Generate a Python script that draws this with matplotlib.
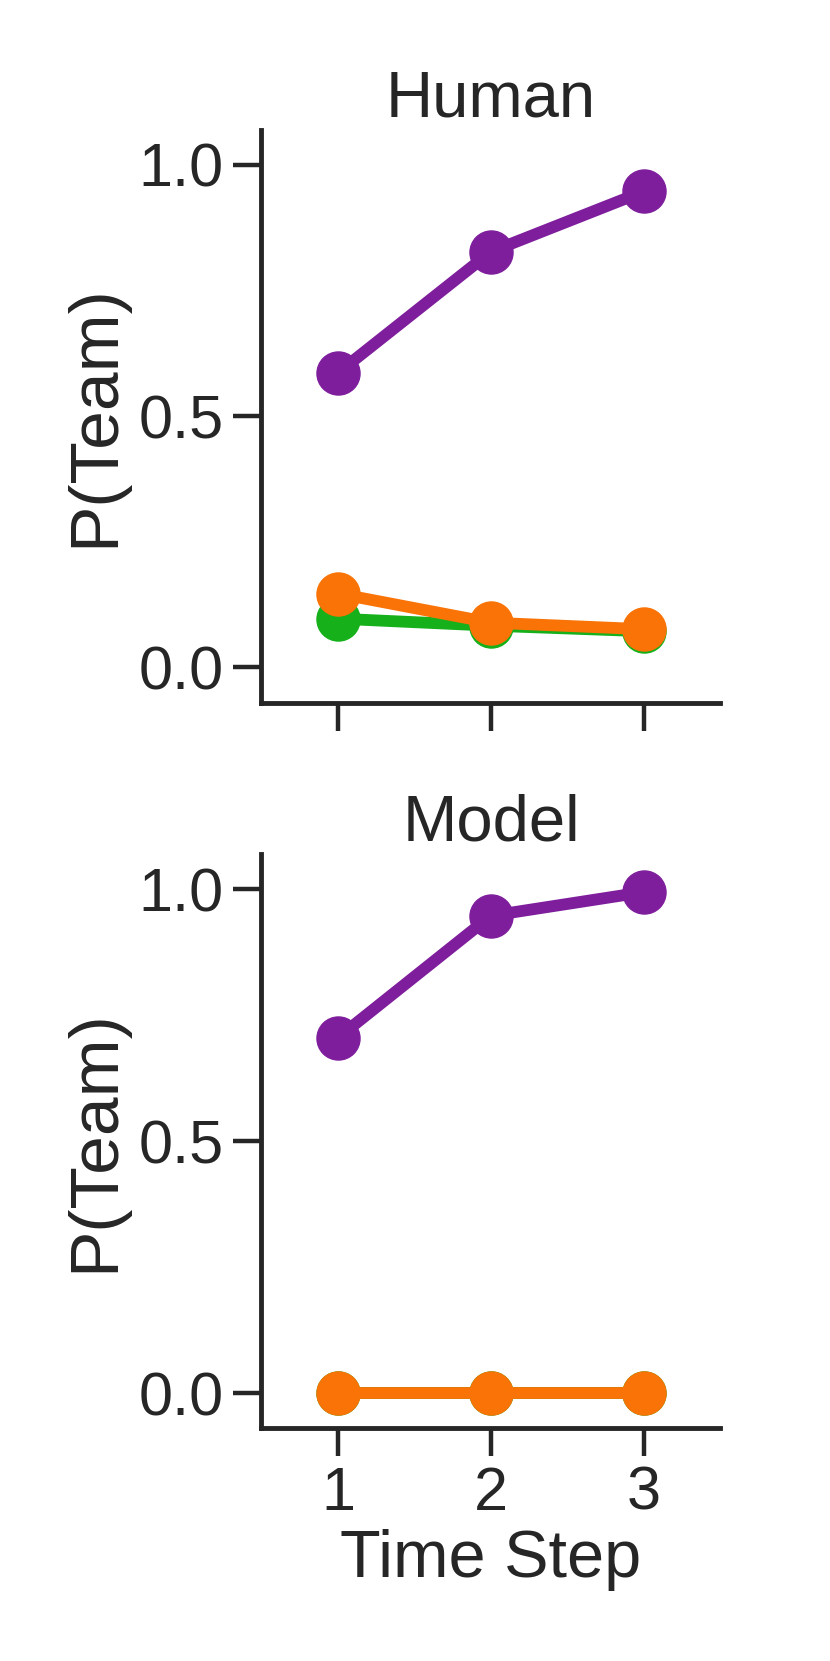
import matplotlib
matplotlib.use("Agg")
import matplotlib.pyplot as plt

time_steps = [1, 2, 3]
human_purple = [0.586, 0.827, 0.947]
human_green = [0.097, 0.083, 0.072]
human_orange = [0.147, 0.089, 0.076]
model_purple = [0.705, 0.947, 0.994]
model_green = [0.0, 0.0, 0.0]
model_orange = [0.0, 0.0, 0.0]
titles = ["Human", "Model"]
colors = {"purple": "#7E1E9C", "green": "#15B01A", "orange": "#F97306"}

plt.rcParams['font.family'] = ['Liberation Sans', 'DejaVu Sans']
TXT = "#262626"

fig = plt.figure(figsize=(8.3, 16.61), dpi=100)
ax1 = fig.add_axes([0.315, 0.577, 0.553, 0.345])
ax2 = fig.add_axes([0.315, 0.140, 0.553, 0.346], sharex=ax1)

series = [
    (human_purple, human_green, human_orange),
    (model_purple, model_green, model_orange),
]

for ax, title, (p, g, o) in zip([ax1, ax2], titles, series):
    for vals, c in [(p, colors["purple"]), (g, colors["green"]), (o, colors["orange"])]:
        ax.plot(time_steps, vals, color=c, lw=8.5, marker='o', ms=31, zorder=3)
    ax.set_ylim(-0.07, 1.07)
    ax.set_xlim(0.5, 3.5)
    ax.set_yticks([0.0, 0.5, 1.0])
    ax.set_yticklabels(["0.0", "0.5", "1.0"])
    ax.set_xticks(time_steps)
    for s in ['top', 'right']:
        ax.spines[s].set_visible(False)
    for s in ['left', 'bottom']:
        ax.spines[s].set_linewidth(3.5)
        ax.spines[s].set_color(TXT)
    ax.tick_params(axis='both', length=20, width=3.2, color=TXT,
                   labelsize=44, labelcolor=TXT, pad=7)
    ax.set_title(title, fontsize=47, color=TXT, pad=8)
    ax.set_ylabel("P(Team)", fontsize=50, color=TXT, labelpad=8)

ax1.tick_params(axis='x', labelbottom=False)
ax2.set_xlabel("Time Step", fontsize=48, color=TXT, labelpad=4)

fig.savefig("out.png", dpi=100, facecolor='white')
